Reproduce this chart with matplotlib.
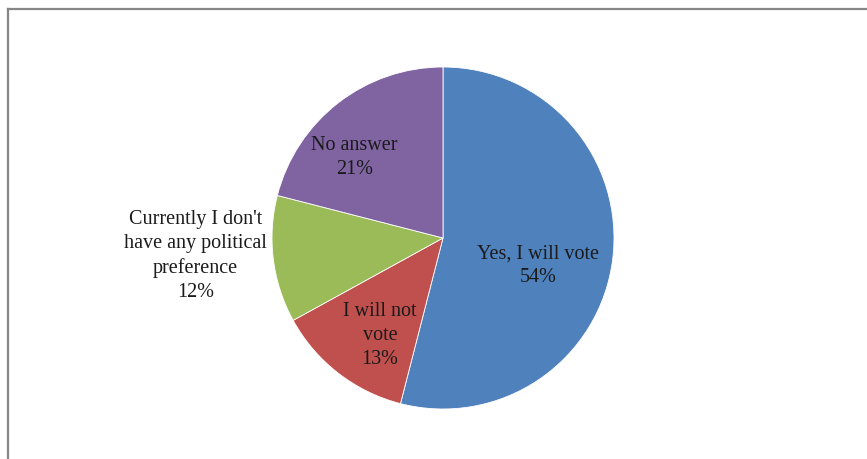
import numpy as np
import matplotlib
matplotlib.use("Agg")
import matplotlib.pyplot as plt
from matplotlib.lines import Line2D

# Survey answers, clockwise from 12 o'clock
labels = ["Yes, I will vote", "I will not\nvote",
          "Currently I don't\nhave any political\npreference", "No answer"]
shares = [54, 13, 12, 21]
colors = ["#4F81BD", "#C0504D", "#9BBB59", "#8064A2"]

# label radius (fraction of pie radius) and angle nudge in degrees
label_r = [0.58, 0.68, 1.45, 0.70]
label_da = [-9, 5, -3, 10]

plt.rcParams["font.family"] = ["Liberation Serif", "DejaVu Serif"]

fig = plt.figure(figsize=(8.67, 4.59), dpi=100)
W, H = 867, 459
cx, cy, r = 443, 238, 171
ax = fig.add_axes([(cx - r) / W, (H - cy - r) / H, 2 * r / W, 2 * r / H])

wedges, _ = ax.pie(shares, colors=colors, startangle=90, counterclock=False,
                   radius=1, wedgeprops=dict(edgecolor="white", linewidth=0.6))
ax.set_xlim(-1, 1)
ax.set_ylim(-1, 1)
ax.set_aspect("equal")
ax.axis("off")

# percentage labels
total = sum(shares)
start = 90.0
for lab, v, lr, da in zip(labels, shares, label_r, label_da):
    sweep = 360.0 * v / total
    mid = np.radians(start - sweep / 2 + da)
    start -= sweep
    ax.text(lr * np.cos(mid), lr * np.sin(mid), f"{lab}\n{round(100 * v / total)}%",
            ha="center", va="center", fontsize=14.5, color="#1a1a1a",
            linespacing=1.35)

# chart frame (top and left edges)
fig.add_artist(Line2D([8 / W, 1], [1 - 9 / H, 1 - 9 / H], color="#868686", lw=1.6))
fig.add_artist(Line2D([8 / W, 8 / W], [0, 1 - 9 / H], color="#868686", lw=1.6))

fig.savefig("out.png", dpi=100)
